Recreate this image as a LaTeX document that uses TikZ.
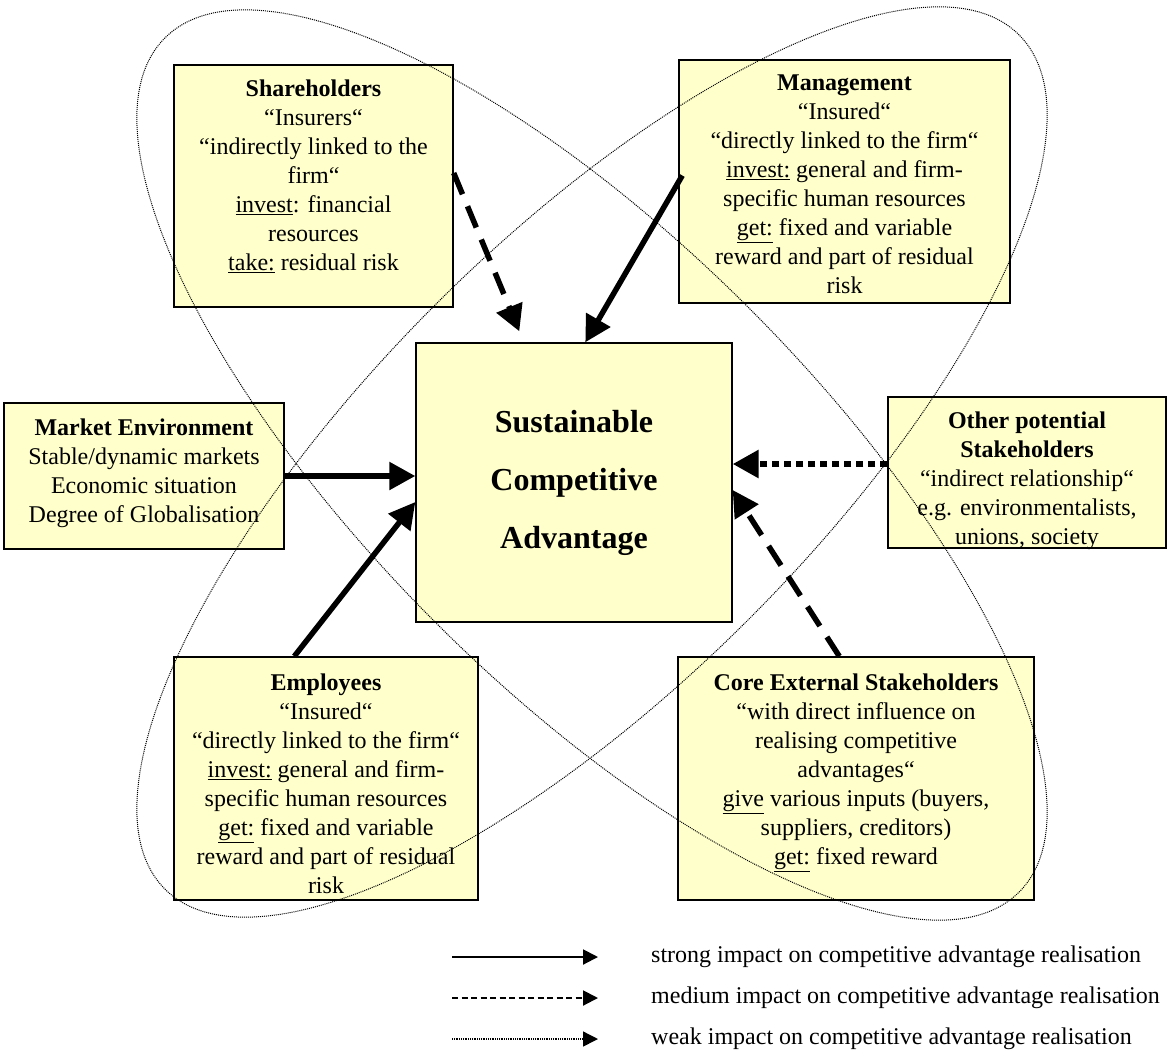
\documentclass[tikz,border=0pt]{standalone}
\usepackage{fontspec}
\setmainfont{Liberation Serif}
\usepackage{tikz}
\usetikzlibrary{arrows.meta}
\usepackage{xcolor}
\definecolor{boxyellow}{HTML}{FFFFCC}

\begin{document}
\begin{tikzpicture}[x=1pt, y=-1pt,
	stakebox/.style={draw, line width=1.4pt, fill=boxyellow, inner sep=0pt},
	boxtext/.style={anchor=north, align=center, inner sep=0pt, font=\fontsize{24}{29}\selectfont},
	legtext/.style={anchor=west, inner sep=0pt, font=\fontsize{24}{29}\selectfont},
	orbit/.style={line width=1pt, dash pattern=on 1pt off 1pt},
	strongimpact/.style={line width=5.5pt, -{Triangle[length=26pt,width=27pt]}},
	mediumimpact/.style={strongimpact, dash pattern=on 23pt off 13pt},
	weakimpact/.style={strongimpact, line width=6pt, dash pattern=on 7pt off 5pt},
	legarrow/.style={line width=2pt, -{Triangle[length=15pt,width=15pt]}}]
	\useasboundingbox (0,0) rectangle (1167,1061);
	\node [stakebox, minimum width=279pt, minimum height=242pt] (share) at (313.5,186) {};
	\node [stakebox, minimum width=331pt, minimum height=243pt] (mgmt) at (844.5,181.5) {};
	\node [stakebox, minimum width=280pt, minimum height=146pt] (market) at (144,476) {};
	\node [stakebox, minimum width=278pt, minimum height=151pt] (other) at (1027,472.5) {};
	\node [stakebox, minimum width=304pt, minimum height=243pt] (emp) at (326,778.5) {};
	\node [stakebox, minimum width=356pt, minimum height=243pt] (core) at (856,778.5) {};
	\node [stakebox, minimum width=316pt, minimum height=279pt, align=center, font=\bfseries\fontsize{32}{58}\selectfont] (sca) at (574,482.5) {Sustainable\\Competitive\\Advantage};
	\node [boxtext] (sharetext) at (share.north |- 0,80) {\textbf{Shareholders}\\“Insurers“\\“indirectly linked to the\\firm“\\\underline{invest}: financial\\resources\\\underline{take:} residual risk};
	\node [boxtext] (mgmttext) at (mgmt.north |- 0,75) {\textbf{Management}\\“Insured“\\“directly linked to the firm“\\\underline{invest:} general and firm-\\specific human resources\\\underline{get:} fixed and variable\\reward and part of residual\\risk};
	\node [boxtext] (markettext) at (market.north |- 0,419) {\textbf{Market Environment}\\Stable/dynamic markets\\Economic situation\\Degree of Globalisation};
	\node [boxtext] (othertext) at (other.north |- 0,412) {\textbf{Other potential}\\\textbf{Stakeholders}\\“indirect relationship“\\e.g. environmentalists,\\unions, society};
	\node [boxtext] (emptext) at (emp.north |- 0,674) {\textbf{Employees}\\“Insured“\\“directly linked to the firm“\\\underline{invest:} general and firm-\\specific human resources\\\underline{get:} fixed and variable\\reward and part of residual\\risk};
	\node [boxtext] (coretext) at (core.north |- 0,674) {\textbf{Core External Stakeholders}\\“with direct influence on\\realising competitive\\advantages“\\\underline{give} various inputs (buyers,\\suppliers, creditors)\\\underline{get:} fixed reward};
	\draw [orbit, rotate around={-45:(592,465)}] (592,465) ellipse [x radius=604pt, y radius=222pt];
	\draw [orbit, rotate around={45:(592,462)}] (592,462) ellipse [x radius=604pt, y radius=222pt];
	\draw [mediumimpact] ([yshift=13pt]share.east) -- ([xshift=104pt,yshift=11pt]sca.north west);
	\draw [strongimpact] ([xshift=4pt,yshift=6pt]mgmt.west) -- ([xshift=170pt]sca.north west);
	\draw [strongimpact] (market.east) -- (market.east -| sca.west);
	\draw [strongimpact] ([xshift=121pt]emp.north west) -- ([yshift=-19.5pt]sca.west);
	\draw [weakimpact] ([yshift=8.5pt]other.west) -- ([yshift=8.5pt]other.west -| sca.east);
	\draw [mediumimpact] ([xshift=162pt]core.north west) -- ([yshift=-7.5pt]sca.east);
	\node [legtext] (strong) at (651,957) {strong impact on competitive advantage realisation};
	\node [legtext] (medium) at (651,998) {medium impact on competitive advantage realisation};
	\node [legtext] (weak) at (651,1039) {weak impact on competitive advantage realisation};
	\coordinate (s1) at (452,957);
	\coordinate (s2) at (452,998);
	\coordinate (s3) at (452,1039);
	\draw [legarrow] (s1) -- (s1 -| 598,0);
	\draw [legarrow, dash pattern=on 6pt off 3.5pt] (s2) -- (s2 -| 598,0);
	\draw [legarrow, line width=1.4pt, dash pattern=on 1pt off 0.8pt] (s3) -- (s3 -| 598,0);
\end{tikzpicture}
\end{document}
